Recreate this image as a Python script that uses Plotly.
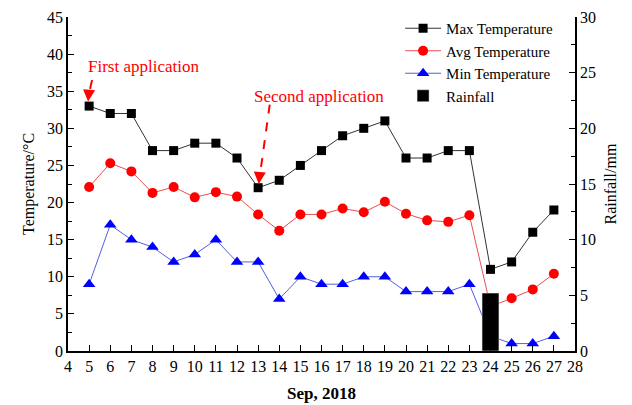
import plotly.graph_objects as go

days = list(range(5, 28))
max_temp = [33, 32, 32, 27, 27, 28, 28, 26, 22, 23, 25, 27, 29, 30, 31, 26, 26, 27, 27, 11, 12, 16, 19]
avg_temp = [22.1, 25.3, 24.2, 21.3, 22.1, 20.7, 21.4, 20.8, 18.4, 16.2, 18.4, 18.4, 19.2, 18.7, 20.1,
            18.5, 17.6, 17.4, 18.3, 6.0, 7.1, 8.3, 10.4]
min_temp = [9, 17, 15, 14, 12, 13, 15, 12, 12, 7, 10, 9, 9, 10, 10, 8, 8, 8, 9, 2, 1, 1, 2]
rain_days = [24]
rainfall = [5.2]
x_ticks = list(range(4, 29))

FONT = "Liberation Serif, Times New Roman, serif"

fig = go.Figure()
fig.add_trace(go.Scatter(
    x=days, y=max_temp, name="Max Temperature", mode="lines+markers",
    line=dict(color="#333333", width=1),
    marker=dict(symbol="square", size=9, color="black")))
fig.add_trace(go.Scatter(
    x=days, y=avg_temp, name="Avg Temperature", mode="lines+markers",
    line=dict(color="#e85050", width=1),
    marker=dict(symbol="circle", size=10, color="red")))
fig.add_trace(go.Scatter(
    x=days, y=min_temp, name="Min Temperature", mode="lines+markers",
    line=dict(color="#5060e0", width=1),
    marker=dict(symbol="triangle-up", size=11, color="blue")))
fig.add_trace(go.Bar(
    x=rain_days, y=rainfall, name="Rainfall", yaxis="y2",
    marker=dict(color="black"), width=0.8))

# dashed pointers from the annotations to the application days
fig.add_shape(type="line", x0=5.14, y0=36.5, x1=4.97, y1=34.4,
              line=dict(color="red", width=2, dash="dash"))
fig.add_shape(type="line", x0=13.55, y0=33.2, x1=13.08, y1=23.6,
              line=dict(color="red", width=2, dash="dash"))
fig.add_annotation(x=4.95, y=33.6, ax=4.98, ay=34.6, axref="x", ayref="y",
                   text="", showarrow=True, arrowhead=2, arrowsize=1.2,
                   arrowwidth=2, arrowcolor="red")
fig.add_annotation(x=13.03, y=22.5, ax=13.07, ay=23.8, axref="x", ayref="y",
                   text="", showarrow=True, arrowhead=2, arrowsize=1.2,
                   arrowwidth=2, arrowcolor="red")
fig.add_annotation(x=7.56, y=38.3, text="First application", showarrow=False,
                   font=dict(family=FONT, size=17, color="red"))
fig.add_annotation(x=15.9, y=34.3, text="Second application", showarrow=False,
                   font=dict(family=FONT, size=17, color="red"))

# axis titles
fig.add_annotation(xref="paper", yref="paper", x=0.5, y=-0.127, yanchor="middle",
                   text="<b>Sep, 2018</b>", showarrow=False,
                   font=dict(family=FONT, size=17))
fig.add_annotation(xref="paper", yref="paper", x=-0.0986, y=0.5, textangle=-90,
                   text="Temperature/°C", showarrow=False,
                   font=dict(family=FONT, size=16))
fig.add_annotation(xref="paper", yref="paper", x=1.0907, y=0.5, textangle=-90,
                   text="Rainfall/mm", showarrow=False,
                   font=dict(family=FONT, size=16))

fig.update_layout(
    width=632, height=405,
    margin=dict(l=68, r=57, t=17, b=54),
    paper_bgcolor="white", plot_bgcolor="white",
    font=dict(family=FONT, size=16, color="black"),
    showlegend=True,
    legend=dict(x=0.655, y=1.015, xanchor="left", yanchor="top",
                bgcolor="rgba(0,0,0,0)", font=dict(family=FONT, size=15),
                tracegroupgap=0, itemwidth=36),
    xaxis=dict(range=[4, 28], tickvals=x_ticks, ticktext=[str(t) for t in x_ticks],
               ticks="inside", ticklen=6, tickcolor="black",
               tickfont=dict(family=FONT, size=16), automargin=False,
               showline=True, linecolor="black", linewidth=1.5,
               showgrid=False, zeroline=False),
    yaxis=dict(range=[0, 45], dtick=5, ticks="inside", ticklen=6, tickcolor="black",
               tickfont=dict(family=FONT, size=16), automargin=False,
               minor=dict(dtick=2.5, ticks="inside", ticklen=4, tickcolor="black"),
               showline=True, linecolor="black", linewidth=1.5,
               showgrid=False, zeroline=False),
    yaxis2=dict(range=[0, 30], dtick=5, overlaying="y", side="right",
                ticks="inside", ticklen=6, tickcolor="black",
                tickfont=dict(family=FONT, size=16), automargin=False,
                minor=dict(dtick=2.5, ticks="inside", ticklen=4, tickcolor="black"),
                showline=True, linecolor="black", linewidth=1.5,
                showgrid=False, zeroline=False),
)

fig.write_html("out.html")
